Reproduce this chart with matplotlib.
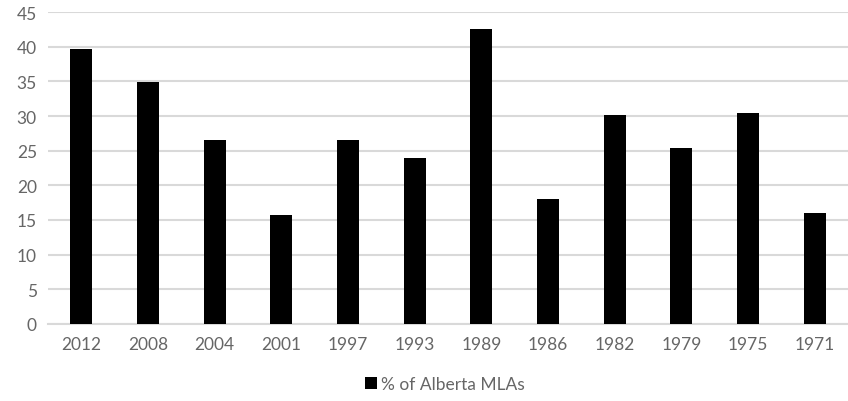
import matplotlib
matplotlib.use("Agg")
import matplotlib.pyplot as plt
import numpy as np

# election years and share of women among Alberta MLAs (%)
years = ["2012", "2008", "2004", "2001", "1997", "1993", "1989", "1986", "1982", "1979", "1975", "1971"]
share = [39.6, 34.9, 26.6, 15.7, 26.6, 23.9, 42.5, 18.1, 30.1, 25.4, 30.4, 16.0]
y_ticks = list(range(0, 50, 5))

plt.rcParams['font.family'] = ['Lato', 'DejaVu Sans']
text_grey = "#666666"
grid_grey = "#d9d9d9"

fig = plt.figure(figsize=(8.48, 4.02), dpi=100)
ax = fig.add_axes([48 / 848, 77 / 402, 800 / 848, 312 / 402])

x = np.arange(len(years))
ax.bar(x, share, width=0.33, color="black", zorder=3, label="% of Alberta MLAs")

ax.set_xlim(-0.5, len(years) - 0.5)
ax.set_ylim(0, 45)
ax.set_yticks(y_ticks)
ax.set_xticks(x)
ax.set_xticklabels(years)
ax.yaxis.grid(True, color=grid_grey, linewidth=1.5, zorder=0)
ax.set_axisbelow(True)

for s in ["top", "right", "left"]:
    ax.spines[s].set_visible(False)
ax.spines["bottom"].set_color(grid_grey)
ax.spines["bottom"].set_linewidth(1.5)

ax.tick_params(axis="both", length=0, labelsize=12.5, labelcolor=text_grey)
ax.tick_params(axis="y", pad=8)
ax.tick_params(axis="x", pad=9)

fig.legend(loc="center", bbox_to_anchor=(445 / 848, 1 - 385 / 402), frameon=False,
           fontsize=12.5, handlelength=0.7, handleheight=0.7, handletextpad=0.2,
           labelcolor=text_grey)

fig.savefig("out.png", dpi=100)
